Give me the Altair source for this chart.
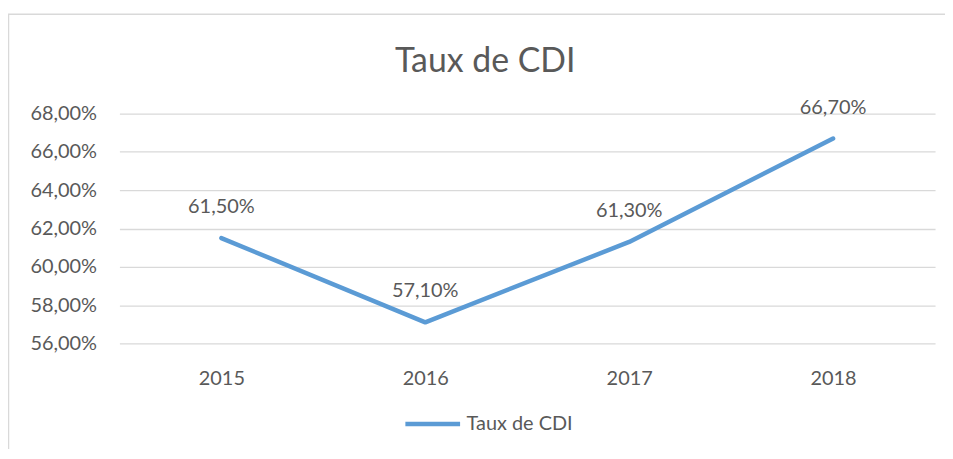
import altair as alt
import pandas as pd

years = ["2015", "2016", "2017", "2018"]
values = [61.5, 57.1, 61.3, 66.7]
series_name = "Taux de CDI"
y_ticks = [56, 58, 60, 62, 64, 66, 68]
title_text = "Taux de CDI"

df = pd.DataFrame({"year": years, "value": values, "series": [series_name] * len(years)})

FONT = "Lato"
GRAY = "#595959"
BLUE = "#5B9BD5"

pct_expr = "replace(format(datum.value, '.2f'), '.', ',') + '%'"

x_enc = alt.X("year:O", scale=alt.Scale(padding=0.5),
              axis=alt.Axis(title=None, labelAngle=0, domain=False, ticks=False, tickSize=0,
                            labelPadding=25, labelFontSize=20, labelColor=GRAY, labelFont=FONT,
                            grid=False))
y_enc = alt.Y("value:Q", scale=alt.Scale(domain=[56, 68], nice=False, zero=False),
              axis=alt.Axis(title=None, values=y_ticks, labelExpr=pct_expr, domain=False,
                            ticks=False, tickSize=0, labelPadding=23, labelFontSize=20,
                            labelOverlap=False, labelColor=GRAY, labelFont=FONT,
                            gridColor="#D9D9D9", gridWidth=1.3))

line = alt.Chart(df).mark_line(strokeWidth=4.5, strokeCap="round", strokeJoin="round").encode(
    x=x_enc, y=y_enc,
    color=alt.Color("series:N", scale=alt.Scale(range=[BLUE]),
                    legend=alt.Legend(title=None, orient="none", legendX=285, legendY=282,
                                      symbolType="stroke", symbolSize=3025, symbolStrokeWidth=4.5,
                                      labelFontSize=20, labelColor=GRAY, labelFont=FONT,
                                      labelOffset=4, padding=0)),
)

labels = alt.Chart(df).transform_calculate(
    lbl=pct_expr
).mark_text(dy=-31, fontSize=20, font=FONT, color=GRAY, baseline="middle").encode(
    x=x_enc, y=y_enc, text="lbl:N"
)

border = alt.Chart(alt.Data(values=[{"a": 1}])).mark_rect(fill="transparent", stroke="#D9D9D9", strokeWidth=1.5).encode(
    x=alt.value(-111.5), x2=alt.value(831), y=alt.value(-100), y2=alt.value(400)
)

chart = alt.layer(border, line, labels).properties(
    width=820, height=231,
    background="white",
    title=alt.Title(title_text, fontSize=34, font=FONT, color=GRAY, fontWeight="normal",
                    anchor="middle", frame="bounds", dy=70, dx=8),
    autosize=alt.AutoSizeParams(type="none"),
    padding={"left": 112, "top": 105, "right": 10, "bottom": 105},
).configure_view(strokeWidth=0, stroke=None)

chart.save("out.html", embed_options={"renderer": "svg", "actions": False})
